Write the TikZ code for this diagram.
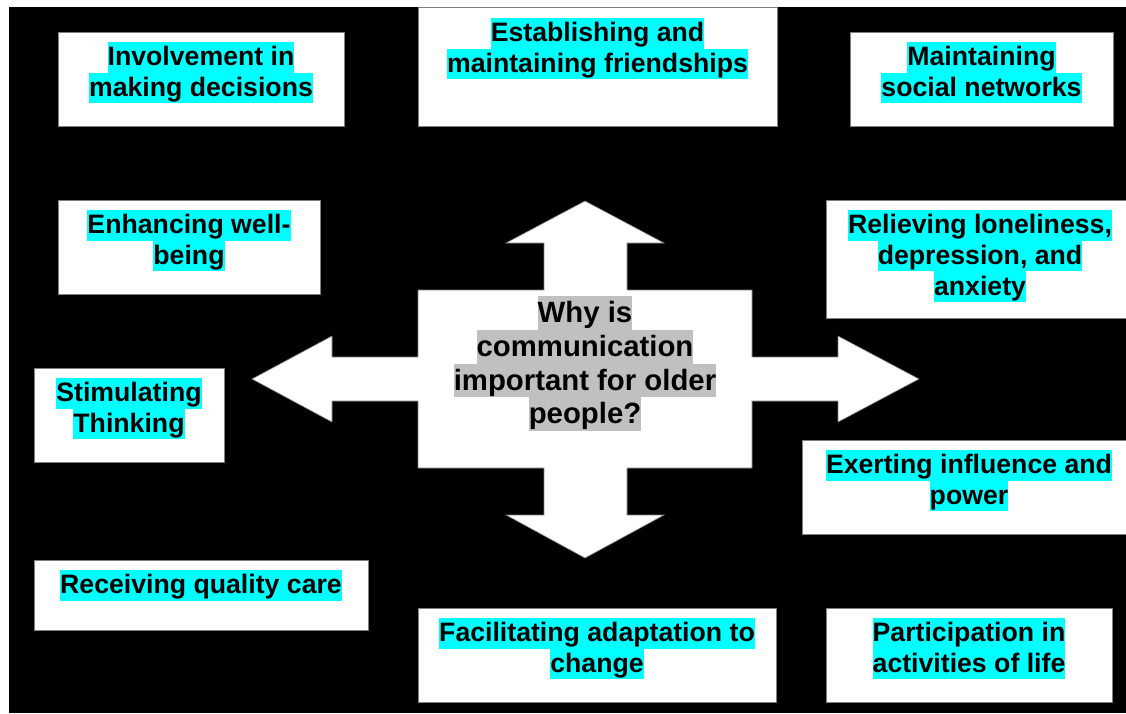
\documentclass[tikz,border=0pt]{standalone}
\usepackage{fontspec}
\setmainfont{Liberation Sans}
\usetikzlibrary{fit}
\definecolor{hlcyan}{HTML}{00FFFF}
\definecolor{hlgray}{HTML}{C0C0C0}
\definecolor{edgegray}{HTML}{7F7F7F}
% highlighted text lines (marker style background)
\newcommand{\cyanline}[1]{{\setlength{\fboxsep}{0pt}\colorbox{hlcyan}{\rule[-6.6pt]{0pt}{30.7pt}#1}}}
\newcommand{\grayline}[1]{{\setlength{\fboxsep}{0pt}\colorbox{hlgray}{\rule[-7.2pt]{0pt}{33.7pt}#1}}}
\tikzset{
  topicbox/.style={draw=edgegray, line width=0.75pt, fill=white, inner sep=0pt},
  topictext/.style={anchor=north, inner sep=0pt, align=center,
    font=\fontsize{26.67pt}{30.7pt}\selectfont\bfseries},
  centertext/.style={anchor=north, inner sep=0pt, align=center,
    font=\fontsize{29.33pt}{33.7pt}\selectfont\bfseries},
  crossarrow/.style={draw=edgegray, line width=0.6pt, fill=white},
}
\begin{document}
\begin{tikzpicture}[x=1pt, y=-1pt]
\useasboundingbox (0,0) rectangle (1126,713);
\clip (0,0) rectangle (1126,713);
\fill[white] (0,0) rectangle (1126,713);
\fill[black] (9,7) rectangle (1126,713);

% four-way arrow in the middle
\draw[crossarrow]
  (585,201) -- (664,243) -- (627,243) -- (627,290) -- (752,290) -- (752,357)
  -- (838,357) -- (838,336) -- (919,379) -- (838,422) -- (838,401) -- (752,401)
  -- (752,468) -- (627,468) -- (627,515) -- (664,515) -- (585,558) -- (506,515)
  -- (544,515) -- (544,468) -- (418,468) -- (418,401) -- (332,401) -- (332,422)
  -- (252,379) -- (332,336) -- (332,357) -- (418,357) -- (418,290) -- (544,290)
  -- (544,243) -- (506,243) -- cycle;
\node[centertext] (question) at (585,296)
  {\grayline{Why is}\\\grayline{communication}\\\grayline{important for older}\\\grayline{people?}};

% surrounding boxes
\node[topicbox, fit={(58,32)(344,126)}] (inv) {};
\node[topicbox, fit={(418,7)(777,126)}] (est) {};
\node[topicbox, fit={(850,32)(1113,126)}] (soc) {};
\node[topicbox, fit={(58,200)(320,294)}] (well) {};
\node[topicbox, fit={(826,200)(1134,318)}] (lone) {};
\node[topicbox, fit={(34,368)(224,462)}] (stim) {};
\node[topicbox, fit={(802,440)(1136,534)}] (infl) {};
\node[topicbox, fit={(34,560)(368,630)}] (care) {};
\node[topicbox, fit={(418,608)(776,702)}] (adapt) {};
\node[topicbox, fit={(826,608)(1112,702)}] (life) {};

\node[topictext] (invT) at ([yshift=-10pt]inv.north)
  {\cyanline{Involvement in}\\\cyanline{making decisions}};
\node[topictext] (estT) at ([yshift=-11pt]est.north)
  {\cyanline{Establishing and}\\\cyanline{maintaining friendships}};
\node[topictext] (socT) at ([yshift=-10pt]soc.north)
  {\cyanline{Maintaining}\\\cyanline{social networks}};
\node[topictext] (wellT) at ([yshift=-10pt]well.north)
  {\cyanline{Enhancing well-}\\\cyanline{being}};
\node[topictext] (loneT) at ([yshift=-10pt]lone.north)
  {\cyanline{Relieving loneliness,}\\\cyanline{depression, and}\\\cyanline{anxiety}};
\node[topictext] (stimT) at ([yshift=-10pt]stim.north)
  {\cyanline{Stimulating}\\\cyanline{Thinking}};
\node[topictext] (inflT) at ([yshift=-10pt]infl.north)
  {\cyanline{Exerting influence and}\\\cyanline{power}};
\node[topictext] (careT) at ([yshift=-10pt]care.north)
  {\cyanline{Receiving quality care}};
\node[topictext] (adaptT) at ([yshift=-10pt]adapt.north)
  {\cyanline{Facilitating adaptation to}\\\cyanline{change}};
\node[topictext] (lifeT) at ([yshift=-10pt]life.north)
  {\cyanline{Participation in}\\\cyanline{activities of life}};
\end{tikzpicture}
\end{document}
